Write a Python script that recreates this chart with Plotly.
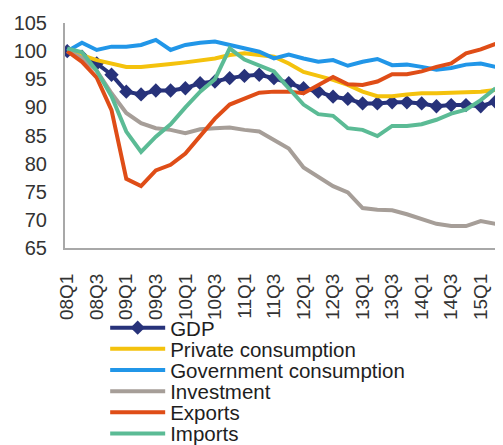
import plotly.graph_objects as go

quarters = ["08Q1", "08Q2", "08Q3", "08Q4", "09Q1", "09Q2", "09Q3", "09Q4",
            "10Q1", "10Q2", "10Q3", "10Q4", "11Q1", "11Q2", "11Q3", "11Q4",
            "12Q1", "12Q2", "12Q3", "12Q4", "13Q1", "13Q2", "13Q3", "13Q4",
            "14Q1", "14Q2", "14Q3", "14Q4", "15Q1", "15Q2"]
tick_labels = ["08Q1", "08Q3", "09Q1", "09Q3", "10Q1", "10Q3", "11Q1", "11Q3",
               "12Q1", "12Q3", "13Q1", "13Q3", "14Q1", "14Q3", "15Q1"]

gdp = [100.0, 99.0, 97.8, 95.8, 92.8, 92.3, 93.0, 93.0, 93.4, 94.3, 94.6, 95.2,
       95.6, 95.8, 95.2, 94.3, 93.4, 92.8, 91.9, 91.5, 90.7, 90.7, 90.9, 90.9,
       90.7, 90.2, 90.4, 90.4, 90.2, 91.0]
private_cons = [100.0, 99.3, 98.4, 97.8, 97.2, 97.2, 97.4, 97.7, 98.0, 98.3, 98.7, 99.3,
                99.6, 99.3, 99.0, 97.8, 96.3, 95.6, 94.9, 94.0, 92.8, 92.0, 92.0, 92.3,
                92.5, 92.5, 92.6, 92.7, 92.8, 93.1]
gov_cons = [100.0, 101.5, 100.2, 100.8, 100.8, 101.1, 102.0, 100.2, 101.1, 101.5, 101.7, 101.1,
            100.5, 99.9, 98.7, 99.4, 98.7, 98.1, 98.4, 97.4, 98.1, 98.6, 97.5, 97.6,
            97.2, 96.7, 97.0, 97.6, 97.8, 97.2]
investment = [100.0, 98.8, 96.5, 92.5, 89.0, 87.2, 86.3, 86.0, 85.4, 86.1, 86.3, 86.4,
              86.0, 85.7, 84.2, 82.7, 79.3, 77.7, 76.0, 74.9, 72.1, 71.8, 71.7, 71.0,
              70.1, 69.3, 68.9, 68.9, 69.8, 69.3]
exports = [100.0, 98.1, 95.3, 89.5, 77.3, 76.0, 78.8, 79.8, 81.8, 85.0, 88.0, 90.5,
           91.5, 92.6, 92.8, 92.8, 92.5, 94.0, 95.4, 94.1, 94.0, 94.6, 95.9, 95.9,
           96.4, 97.2, 97.8, 99.6, 100.3, 101.3]
imports = [100.5, 99.8, 96.5, 92.0, 85.7, 82.1, 84.8, 87.0, 90.0, 92.8, 95.0, 100.5,
           98.5, 97.4, 96.4, 93.4, 90.5, 88.8, 88.5, 86.3, 86.0, 84.9, 86.7, 86.7,
           87.0, 87.8, 88.9, 89.6, 91.3, 93.4]

series_names = ["GDP", "Private consumption", "Government consumption",
                "Investment", "Exports", "Imports"]
series_values = [gdp, private_cons, gov_cons, investment, exports, imports]
series_colors = ["#27327a", "#f4c20d", "#2196e8", "#a69e98", "#df4d17", "#5bbb95"]
legend_y = [-0.355, -0.449, -0.543, -0.637, -0.731, -0.825]

FONT = "Arial, Liberation Sans, sans-serif"

fig = go.Figure()
for k, (name, vals, col) in enumerate(zip(series_names, series_values, series_colors)):
    lg = "legend" if k == 0 else f"legend{k + 1}"
    fig.add_trace(go.Scatter(
        x=quarters, y=vals, name=name, legend=lg, showlegend=True,
        mode="lines+markers" if k == 0 else "lines",
        line=dict(color=col, width=4),
        marker=dict(symbol="diamond", size=11, color=col) if k == 0 else None,
    ))

layout_legends = {}
for k, yy in enumerate(legend_y):
    key = "legend" if k == 0 else f"legend{k + 1}"
    layout_legends[key] = dict(
        x=0.093, y=yy, xanchor="left", yanchor="middle",
        bgcolor="rgba(0,0,0,0)", borderwidth=0,
        font=dict(family=FONT, size=20.5, color="#1e1e1e"),
        itemwidth=55,
    )

fig.update_layout(
    width=495, height=437, showlegend=True,
    margin=dict(l=57, r=6, t=15, b=197, autoexpand=False),
    paper_bgcolor="white", plot_bgcolor="white",
    font=dict(family=FONT, color="#333333"),
    xaxis=dict(
        type="category", categoryorder="array", categoryarray=quarters,
        range=[-0.15, 29.1],
        tickmode="array", tickvals=tick_labels, ticktext=tick_labels,
        tickangle=-90, tickfont=dict(size=19, family=FONT, color="#333333"),
        showline=True, linecolor="#a8a8a8", linewidth=2,
        showgrid=False, zeroline=False, ticks="", ticklabelstandoff=16,
    ),
    yaxis=dict(
        range=[65, 105], dtick=5, tick0=65,
        tickfont=dict(size=20, family=FONT, color="#333333"),
        showline=True, linecolor="#a8a8a8", linewidth=2,
        showgrid=False, zeroline=False, ticks="", ticklabelstandoff=12,
    ),
    **layout_legends,
)

fig.write_html("out.html")
